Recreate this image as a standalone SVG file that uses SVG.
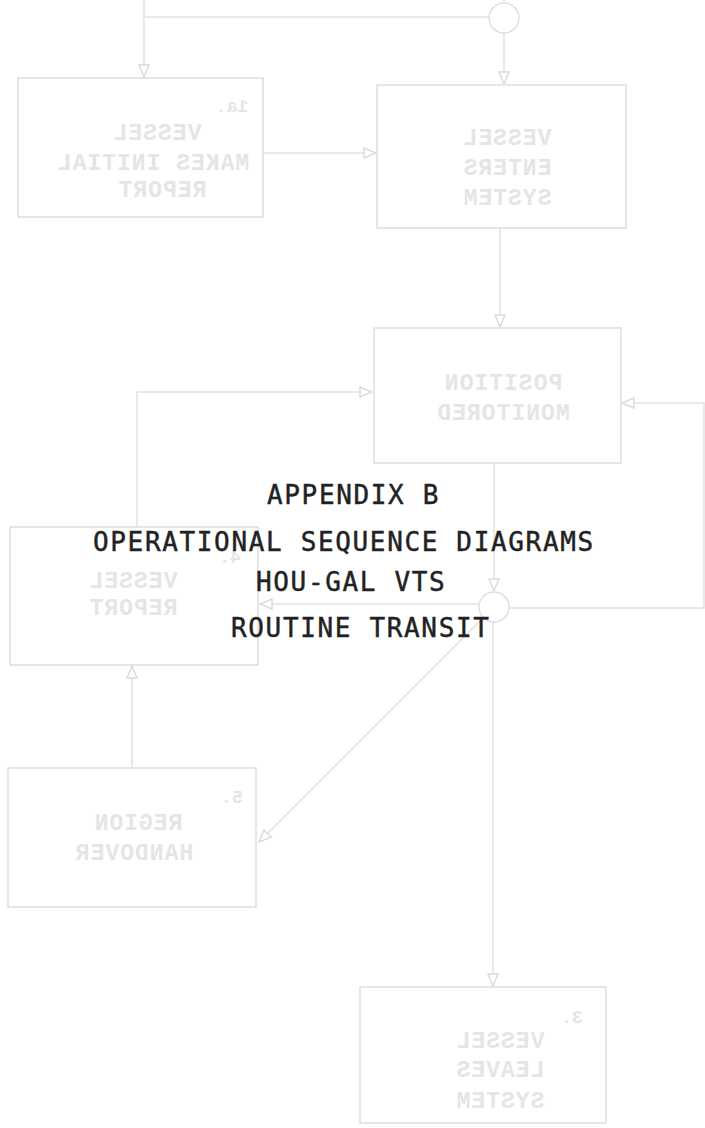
<svg xmlns="http://www.w3.org/2000/svg" width="705" height="1128" viewBox="0 0 705 1128">
  <style>
    .box { fill: none; stroke: #e0e0e0; stroke-width: 1.6; }
    .conn { fill: none; stroke: #e2e2e2; stroke-width: 1.5; }
    .junc { fill: #ffffff; stroke: #e0e0e0; stroke-width: 1.5; }
    .ghost { font-family: "Liberation Mono", "DejaVu Sans Mono", monospace; font-size: 23px; font-weight: bold; fill: #e5e5e5; letter-spacing: 1px; text-anchor: middle; }
    .ghostnum { font-family: "Liberation Mono", "DejaVu Sans Mono", monospace; font-size: 18px; font-weight: bold; fill: #e5e5e5; text-anchor: middle; }
    .title { font-family: "DejaVu Sans Mono", "Liberation Mono", monospace; font-size: 26px; fill: #222222; stroke: #222222; stroke-width: 0.45px; letter-spacing: 1.65px; }
  </style>
  <defs>
    <marker id="arr" viewBox="0 0 14 14" refX="13" refY="7" markerWidth="14" markerHeight="14" markerUnits="userSpaceOnUse" orient="auto">
      <path d="M1,2 L13,7 L1,12 Z" fill="#ffffff" stroke="#dadada" stroke-width="1.4"/>
    </marker>
  </defs>
  <rect x="0" y="0" width="705" height="1128" fill="#ffffff"/>

  <g id="connectors">
    <path class="conn" d="M144,0 V77" marker-end="url(#arr)"/>
    <path class="conn" d="M144,17 H489"/>
    <path class="conn" d="M504,0 V3"/>
    <path class="conn" d="M504,33 V84" marker-end="url(#arr)"/>
    <path class="conn" d="M263,153 H376" marker-end="url(#arr)"/>
    <path class="conn" d="M500,228 V327" marker-end="url(#arr)"/>
    <path class="conn" d="M137,527 V392 H372" marker-end="url(#arr)"/>
    <path class="conn" d="M509,608 H704 V403 H622" marker-end="url(#arr)"/>
    <path class="conn" d="M494,463 V591" marker-end="url(#arr)"/>
    <path class="conn" d="M479,604 H260" marker-end="url(#arr)"/>
    <path class="conn" d="M483,618 L259,842" marker-end="url(#arr)"/>
    <path class="conn" d="M493,622 V986" marker-end="url(#arr)"/>
    <path class="conn" d="M132,768 V666" marker-end="url(#arr)"/>
  </g>

  <g id="junction1">
    <circle class="junc" cx="504" cy="18" r="15"/>
  </g>
  <g id="junction2">
    <circle class="junc" cx="494" cy="607" r="15"/>
  </g>

  <g id="box1">
    <rect class="box" x="18" y="78" width="245" height="139"/>
    <text class="ghostnum" transform="matrix(-1 0 0 1 464 0)" x="232" y="112">1a.</text>
    <text class="ghost" transform="matrix(-1 0 0 1 314 0)" x="157" y="140">VESSEL</text>
    <text class="ghost" transform="matrix(-1 0 0 1 306 0)" x="153" y="170">MAKES INITIAL</text>
    <text class="ghost" transform="matrix(-1 0 0 1 324 0)" x="162" y="197">REPORT</text>
  </g>

  <g id="box2">
    <rect class="box" x="377" y="85" width="249" height="143"/>
    <text class="ghost" transform="matrix(-1 0 0 1 1014 0)" x="507" y="145">VESSEL</text>
    <text class="ghost" transform="matrix(-1 0 0 1 1014 0)" x="507" y="175">ENTERS</text>
    <text class="ghost" transform="matrix(-1 0 0 1 1014 0)" x="507" y="205">SYSTEM</text>
  </g>

  <g id="box3">
    <rect class="box" x="374" y="328" width="247" height="135"/>
    <text class="ghost" transform="matrix(-1 0 0 1 1006 0)" x="503" y="390">POSITION</text>
    <text class="ghost" transform="matrix(-1 0 0 1 1006 0)" x="503" y="420">MONITORED</text>
  </g>

  <g id="box4">
    <rect class="box" x="10" y="527" width="248" height="138"/>
    <text class="ghostnum" transform="matrix(-1 0 0 1 460 0)" x="230" y="563">4.</text>
    <text class="ghost" transform="matrix(-1 0 0 1 266 0)" x="133" y="588">VESSEL</text>
    <text class="ghost" transform="matrix(-1 0 0 1 266 0)" x="133" y="615">REPORT</text>
  </g>

  <g id="box5">
    <rect class="box" x="8" y="768" width="248" height="139"/>
    <text class="ghostnum" transform="matrix(-1 0 0 1 464 0)" x="232" y="803">5.</text>
    <text class="ghost" transform="matrix(-1 0 0 1 276 0)" x="138" y="830">REGION</text>
    <text class="ghost" transform="matrix(-1 0 0 1 268 0)" x="134" y="860">HANDOVER</text>
  </g>

  <g id="box6">
    <rect class="box" x="360" y="987" width="246" height="136"/>
    <text class="ghostnum" transform="matrix(-1 0 0 1 1144 0)" x="572" y="1023">3.</text>
    <text class="ghost" transform="matrix(-1 0 0 1 1000 0)" x="500" y="1048">VESSEL</text>
    <text class="ghost" transform="matrix(-1 0 0 1 1000 0)" x="500" y="1077">LEAVES</text>
    <text class="ghost" transform="matrix(-1 0 0 1 1000 0)" x="500" y="1108">SYSTEM</text>
  </g>

  <g id="title">
    <text class="title" x="267" y="504">APPENDIX B</text>
    <text class="title" x="93" y="551">OPERATIONAL SEQUENCE DIAGRAMS</text>
    <text class="title" x="256" y="591">HOU-GAL VTS</text>
    <text class="title" x="231" y="637">ROUTINE TRANSIT</text>
  </g>
</svg>
